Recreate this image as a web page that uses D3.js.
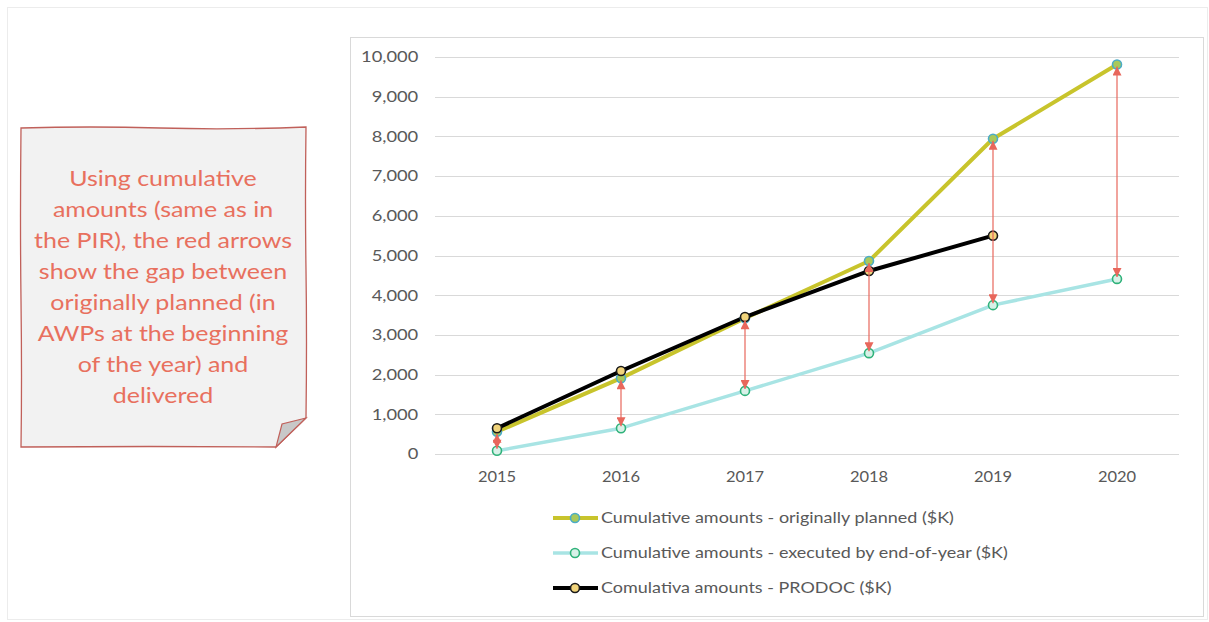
<!DOCTYPE html>
<html><head><meta charset="utf-8">
<script src="https://cdn.jsdelivr.net/npm/d3@7"></script>
<style>body{margin:0;background:#fff;}svg{display:block;}</style>
</head><body>
<svg id="c" width="1209" height="622"></svg>
<script>
const years = ["2015","2016","2017","2018","2019","2020"];
const planned = [560, 1910, 3420, 4860, 7940, 9810];
const executed = [80, 650, 1590, 2540, 3750, 4410];
const prodoc = [650, 2090, 3450, 4610, 5500, null];
const yTicks = [0,1000,2000,3000,4000,5000,6000,7000,8000,9000,10000];
const seriesNames = ["Cumulative amounts - originally planned ($K)","Cumulative amounts - executed by end-of-year ($K)","Comulativa amounts - PRODOC ($K)"];
const noteLines = ["Using cumulative","amounts (same as in","the PIR), the red arrows","show the gap between","originally planned (in","AWPs at the beginning","of the year) and","delivered"];

const svg = d3.select("#c");
const font = "Lato, 'Open Sans', sans-serif";

// outer frame
svg.append("rect").attr("x",7.5).attr("y",7.5).attr("width",1200).attr("height",612).attr("fill","#fff").attr("stroke","#ececec");
// chart frame
svg.append("rect").attr("x",350.5).attr("y",37.5).attr("width",853).attr("height",579).attr("fill","#fff").attr("stroke","#d9d9d9");

const x = d3.scaleBand().domain(years).range([435,1179]);
const y = d3.scaleLinear().domain([0,10000]).range([454,57]);
const cx = d => x(d)+x.bandwidth()/2;

// gridlines
svg.append("g").selectAll("line").data(yTicks).join("line")
  .attr("x1",435).attr("x2",1179).attr("y1",d=>Math.round(y(d))+0.5).attr("y2",d=>Math.round(y(d))+0.5)
  .attr("stroke","#d9d9d9").attr("stroke-width",1);

// y axis
const ya = svg.append("g").attr("transform","translate(428,0)")
  .call(d3.axisLeft(y).tickValues(yTicks).tickSize(0).tickPadding(8).tickFormat(d3.format(",")));
ya.select(".domain").remove();
ya.selectAll("text").attr("font-family",font).attr("font-size",15).attr("fill","#595959").attr("transform","scale(1.22,1)");

// x axis
const xa = svg.append("g").attr("transform","translate(0,467)")
  .call(d3.axisBottom(x).tickSize(0).tickPadding(4));
xa.select(".domain").remove();
xa.selectAll("text").attr("font-family",font).attr("font-size",15).attr("fill","#595959").attr("transform","scale(1.1,1)");

const styles = [
  {data:planned, line:"#c8c42c", w:4, mStroke:"#4bacc6", mFill:"#a9c95b"},
  {data:executed, line:"#a8e4e4", w:3.5, mStroke:"#2fb27a", mFill:"#d8f1e8"},
  {data:prodoc, line:"#000000", w:4, mStroke:"#1a1a1a", mFill:"#f1d47b"}
];
const order = [1,0,2];
const lineGen = d3.line().defined(d=>d.v!=null).x(d=>cx(d.k)).y(d=>y(d.v));
order.forEach(i=>{
  const s = styles[i];
  const pts = years.map((k,j)=>({k, v:s.data[j]}));
  svg.append("path").datum(pts).attr("d",lineGen).attr("fill","none")
    .attr("stroke",s.line).attr("stroke-width",s.w).attr("stroke-linejoin","round");
});
order.forEach(i=>{
  const s = styles[i];
  const pts = years.map((k,j)=>({k, v:s.data[j]})).filter(d=>d.v!=null);
  svg.append("g").selectAll("circle").data(pts).join("circle")
    .attr("cx",d=>cx(d.k)).attr("cy",d=>y(d.v)).attr("r",4.5)
    .attr("fill",s.mFill).attr("stroke",s.mStroke).attr("stroke-width",1.6);
});

// arrows
const red = "#e8675c";
const defs = svg.append("defs");
defs.append("marker").attr("id","ah").attr("viewBox","0 0 10 10").attr("refX",10).attr("refY",5)
  .attr("markerWidth",10).attr("markerHeight",9).attr("markerUnits","userSpaceOnUse").attr("orient","auto-start-reverse")
  .append("path").attr("d","M0,0 L10,5 L0,10 Z").attr("fill",red);
svg.append("g").selectAll("line").data(years).join("line")
  .attr("x1",d=>cx(d)).attr("x2",d=>cx(d))
  .attr("y1",(d,i)=>y(executed[i])-2).attr("y2",(d,i)=>y(planned[i])+2)
  .attr("stroke",red).attr("stroke-width",1.2)
  .attr("marker-start","url(#ah)").attr("marker-end","url(#ah)");

// legend
const lg = svg.append("g");
[0,1,2].forEach(i=>{
  const s = styles[i], yy = 518 + i*35;
  lg.append("line").attr("x1",553).attr("x2",598).attr("y1",yy).attr("y2",yy).attr("stroke",s.line).attr("stroke-width",s.w);
  lg.append("circle").attr("cx",575).attr("cy",yy).attr("r",4.5).attr("fill",s.mFill).attr("stroke",s.mStroke).attr("stroke-width",1.6);
  lg.append("g").attr("transform",`translate(601,${yy+5})`)
    .append("text").attr("transform","scale(1.24,1)").text(seriesNames[i])
    .attr("font-family",font).attr("font-size",14.5).attr("fill","#595959");
});

// note box with folded corner
const nb = svg.append("g");
nb.append("path").attr("d","M21,128 Q90,126 160,128 T306,127 Q305,200 306,270 T306,418 L276,447 Q150,446 21,447 Q22,380 21,300 T21,128 Z")
  .attr("fill","#f2f2f2").attr("stroke","#c0605a").attr("stroke-width",1.3);
nb.append("path").attr("d","M306,418 L282,424 L276,447 Z").attr("fill","#c8c8c8").attr("stroke","#c0605a").attr("stroke-width",1.2);
nb.append("g").selectAll("g").data(noteLines).join("g")
  .attr("transform",(d,i)=>`translate(163,${186+i*31})`)
  .append("text").attr("transform","scale(1.19,1)").attr("text-anchor","middle")
  .attr("font-family",font).attr("font-size",21).attr("fill","#e8705e").text(d=>d);
</script>
</body></html>
